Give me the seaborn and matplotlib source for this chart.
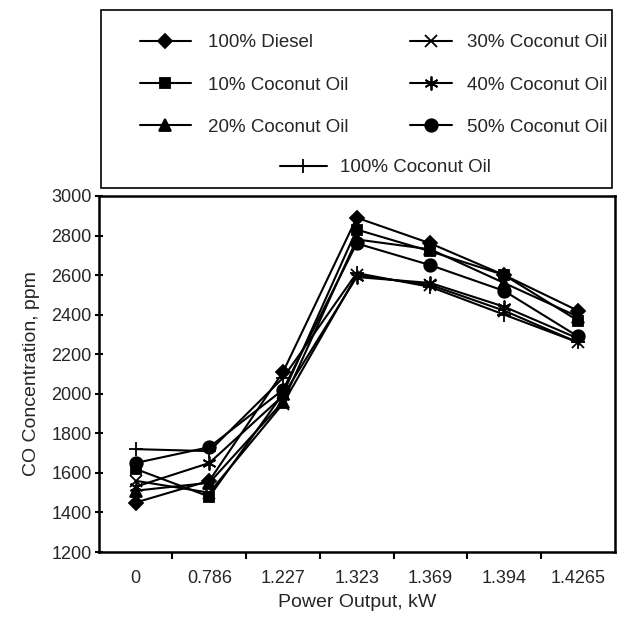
import pandas as pd
import matplotlib.pyplot as plt
import matplotlib.patches as mpatches
import seaborn as sns

# --- Dados ---
POTENCIA = ["0", "0.786", "1.227", "1.323", "1.369", "1.394", "1.4265"]

diesel_100 = [1450, 1560, 2110, 2890, 2760, 2600, 2420]
coco_10 = [1620, 1480, 2000, 2830, 2720, 2600, 2370]
coco_20 = [1510, 1550, 1960, 2780, 2730, 2560, 2390]
coco_30 = [1560, 1500, 1950, 2600, 2550, 2420, 2260]
coco_40 = [1530, 1650, 1990, 2590, 2560, 2440, 2280]
coco_50 = [1650, 1730, 2020, 2760, 2650, 2520, 2290]
coco_100 = [1720, 1710, 2080, 2610, 2540, 2400, 2260]

SERIES = {
    "100% Diesel": diesel_100,
    "10% Coconut Oil": coco_10,
    "20% Coconut Oil": coco_20,
    "30% Coconut Oil": coco_30,
    "40% Coconut Oil": coco_40,
    "50% Coconut Oil": coco_50,
    "100% Coconut Oil": coco_100,
}

MARCADORES = {
    "100% Diesel": ("D", 7),
    "10% Coconut Oil": ("s", 7),
    "20% Coconut Oil": ("^", 8),
    "30% Coconut Oil": ("x", 8),
    "40% Coconut Oil": ((6, 2, 0), 10),
    "50% Coconut Oil": ("o", 9),
    "100% Coconut Oil": ("+", 10),
}

sns.set_theme(style="white")
plt.rcParams["font.family"] = ["Liberation Sans", "DejaVu Sans"]

fig = plt.figure(figsize=(6.37, 6.28), dpi=100)
ax = fig.add_axes([0.155, 0.121, 0.81, 0.567])

for nome, valores in SERIES.items():
    df = pd.DataFrame({"pos": range(len(POTENCIA)), "CO": valores})
    mk, ms = MARCADORES[nome]
    sns.lineplot(data=df, x="pos", y="CO", ax=ax, color="black", label=nome,
                 marker=mk, markersize=ms, markeredgecolor="black",
                 markerfacecolor="black", markeredgewidth=1.3, linewidth=1.5)

handles, labels = ax.get_legend_handles_labels()
ax.get_legend().remove()

ax.set_xlim(-0.5, 6.5)
ax.set_ylim(1200, 3000)
ax.set_yticks(range(1200, 3001, 200))
ax.set_xticks(range(7))
ax.set_xticklabels(POTENCIA)
ax.set_xticks([i + 0.5 for i in range(6)], minor=True)
ax.tick_params(axis="x", which="major", length=0, labelsize=13, pad=13)
ax.tick_params(axis="x", which="minor", length=5, width=1.5, direction="out",
               bottom=True, color="black")
ax.tick_params(axis="y", length=6, width=1.5, direction="inout", left=True,
               labelsize=13, color="black", pad=2)
for s in ax.spines.values():
    s.set_color("black")
    s.set_linewidth(1.8)

ax.set_xlabel("Power Output, kW", fontsize=14, labelpad=5)
ax.set_ylabel("CO Concentration, ppm", fontsize=14, labelpad=8)

# Caixa da legenda
caixa = mpatches.Rectangle((0.159, 0.701), 0.802, 0.283, transform=fig.transFigure,
                           fill=False, edgecolor="black", linewidth=1.2)
fig.patches.append(caixa)

h = dict(zip(labels, handles))
ordem = list(SERIES.keys())
estilo = dict(frameon=False, loc="upper left", fontsize=13.5, borderpad=0,
              borderaxespad=0, labelspacing=1.35)
leg1 = fig.legend([h[k] for k in ordem[:3]], ordem[:3],
                  bbox_to_anchor=(140 / 637, 1 - 34 / 628),
                  handlelength=2.7, handletextpad=0.9, **estilo)
leg2 = fig.legend([h[k] for k in ordem[3:6]], ordem[3:6],
                  bbox_to_anchor=(410 / 637, 1 - 34 / 628),
                  handlelength=2.25, handletextpad=0.8, **estilo)
leg3 = fig.legend([h[ordem[6]]], [ordem[6]],
                  bbox_to_anchor=(280 / 637, 1 - 159 / 628),
                  handlelength=2.5, handletextpad=0.7, **estilo)

fig.savefig("out.png", dpi=100)
